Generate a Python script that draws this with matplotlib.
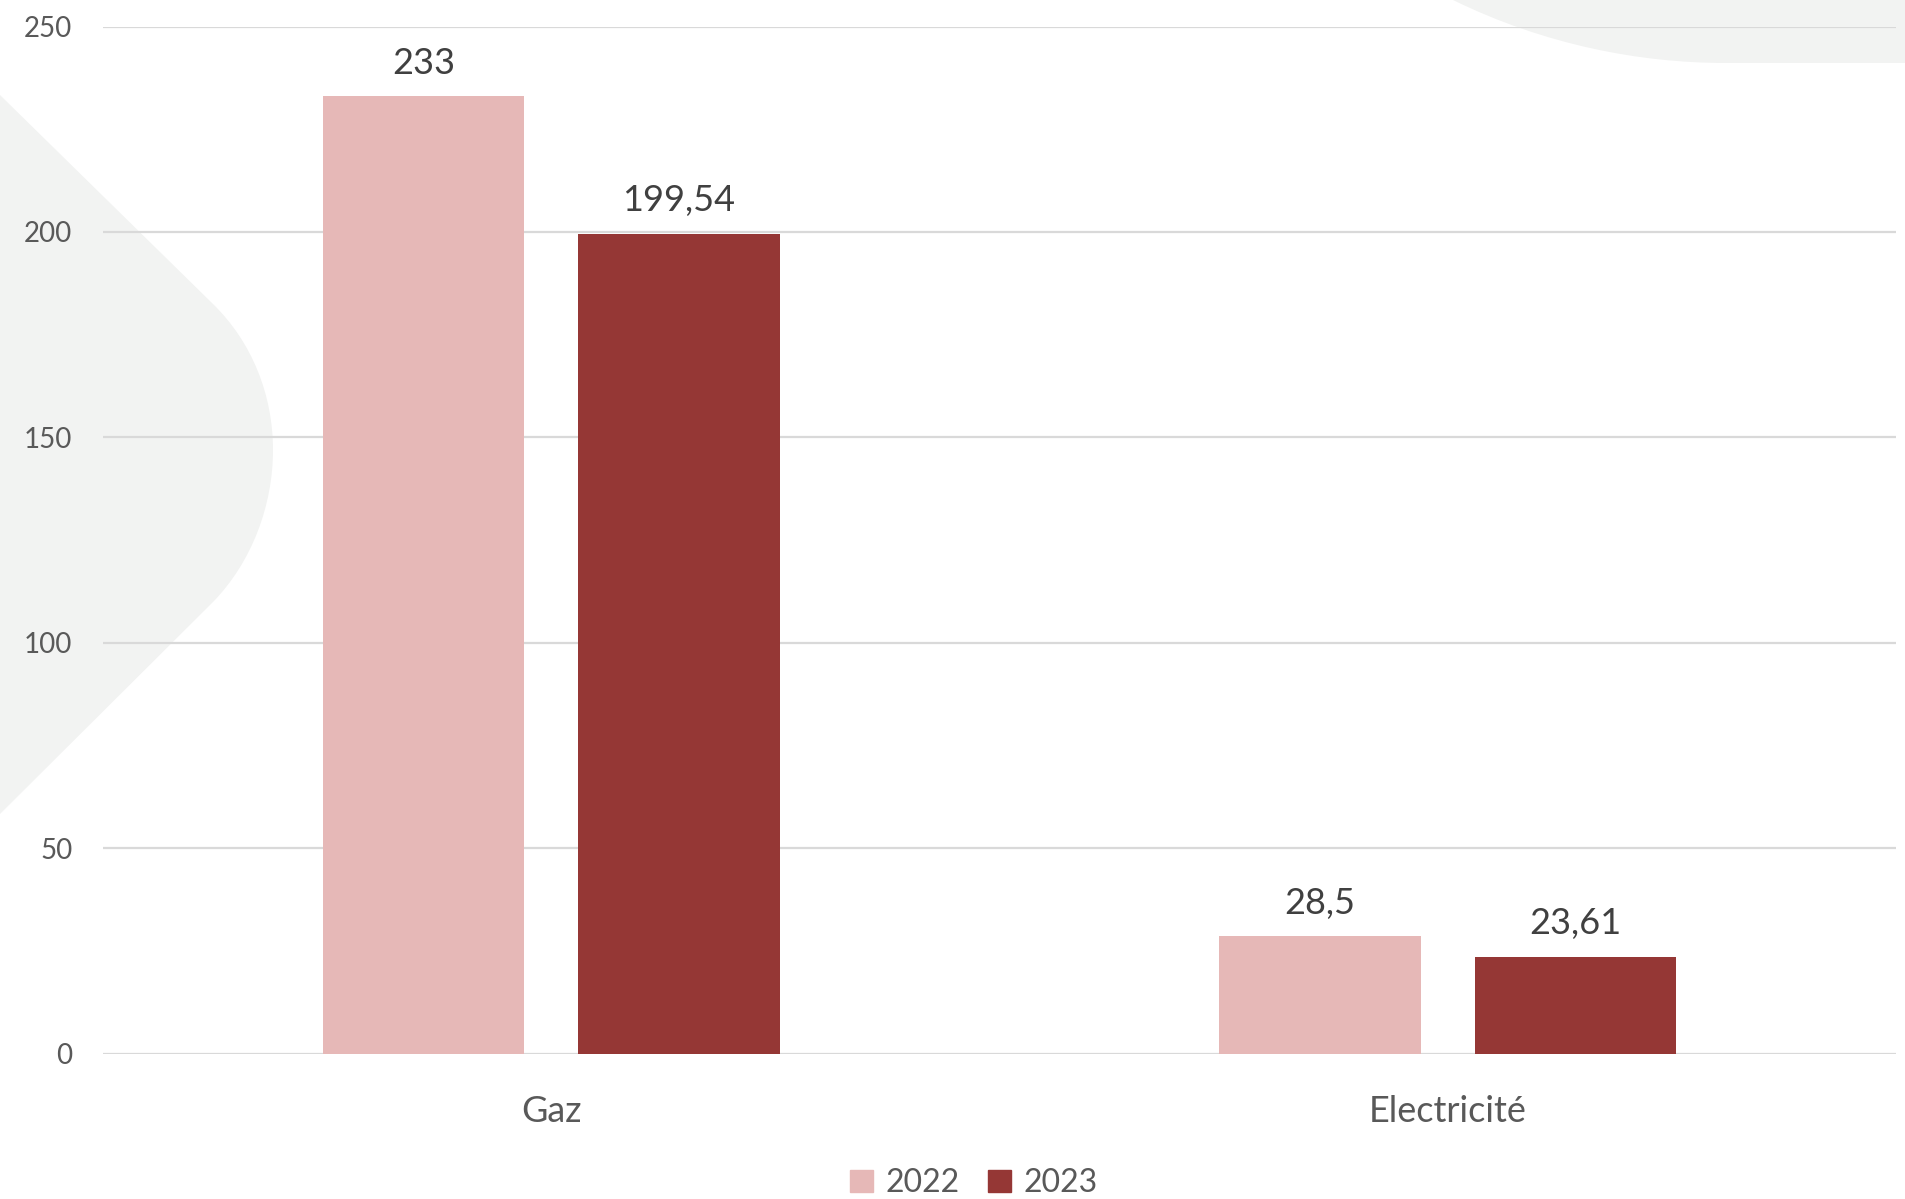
import numpy as np
import matplotlib.pyplot as plt
from matplotlib.path import Path
from matplotlib.patches import PathPatch, Patch

plt.rcParams['font.family'] = ['Lato', 'DejaVu Sans']

categories = ['Gaz', 'Electricité']
series = ['2022', '2023']
values_2022 = [233, 28.5]
values_2023 = [199.54, 23.61]
colors = ['#e6b8b7', '#953735']
yticks = [0, 50, 100, 150, 200, 250]

W, H = 1906, 1199
fig = plt.figure(figsize=(W / 100, H / 100), dpi=100)

# decorative background shapes, in pixel coordinates (y down)
bg = fig.add_axes([0, 0, 1, 1], zorder=0)
bg.set_xlim(0, W)
bg.set_ylim(H, 0)
bg.axis('off')
shape_col = '#f2f3f2'
left_verts = [(0, 95), (213, 304),
              (252, 342), (273, 395), (273, 450),
              (273, 505), (252, 562), (213, 602),
              (0, 814), (0, 95)]
left_codes = [Path.MOVETO, Path.LINETO,
              Path.CURVE4, Path.CURVE4, Path.CURVE4,
              Path.CURVE4, Path.CURVE4, Path.CURVE4,
              Path.LINETO, Path.CLOSEPOLY]
bg.add_patch(PathPatch(Path(left_verts, left_codes), fc=shape_col, ec='none'))
tr_verts = [(1453, 0), (1545, 45), (1640, 63), (1726, 63),
            (1906, 63), (1906, 0), (1453, 0)]
tr_codes = [Path.MOVETO, Path.CURVE4, Path.CURVE4, Path.CURVE4,
            Path.LINETO, Path.LINETO, Path.CLOSEPOLY]
bg.add_patch(PathPatch(Path(tr_verts, tr_codes), fc=shape_col, ec='none'))

ax = fig.add_axes([103 / W, 1 - 1053.5 / H, (1896 - 103) / W, (1053.5 - 26.5) / H], zorder=1)
ax.patch.set_alpha(0)

x = np.arange(len(categories))
bw = 0.225
off = 0.1425
b1 = ax.bar(x - off, values_2022, bw, color=colors[0], zorder=3)
b2 = ax.bar(x + off, values_2023, bw, color=colors[1], zorder=3)

fmt = lambda v: f'{v:g}'.replace('.', ',')
for bars in (b1, b2):
    ax.bar_label(bars, labels=[fmt(v) for v in bars.datavalues], padding=12,
                 fontsize=26, color='#404040')

ax.set_xlim(-0.5, 1.5)
ax.set_ylim(0, 250)
ax.set_yticks(yticks)
ax.set_xticks(x)
ax.set_xticklabels(categories)
ax.yaxis.grid(True, color='#d9d9d9', linewidth=1.6, zorder=1)
ax.set_axisbelow(True)
for s in ax.spines.values():
    s.set_visible(False)
ax.tick_params(axis='y', length=0, pad=22, labelsize=20, labelcolor='#595959')
ax.tick_params(axis='x', length=0, pad=30, labelsize=26, labelcolor='#595959')

handles = [Patch(color=c) for c in colors]
fig.legend(handles, series, loc='center', bbox_to_anchor=(974 / W, 1 - 1183 / H),
           ncol=2, frameon=False, fontsize=23, labelcolor='#595959',
           handlelength=0.7, handleheight=0.7, handletextpad=0.4, columnspacing=0.9)

fig.savefig('out.png', dpi=100)
